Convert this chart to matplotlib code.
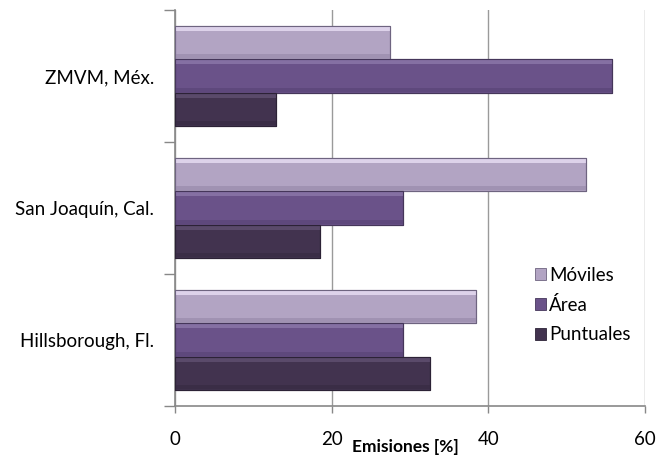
import matplotlib.pyplot as plt
import numpy as np
from matplotlib.patches import Patch

# emissions share by source type, per region
regiones = ["Hillsborough, Fl.", "San Joaquín, Cal.", "ZMVM, Méx."]
series = ["Móviles", "Área", "Puntuales"]
moviles = [38.4, 52.5, 27.4]
area = [29.1, 29.1, 55.8]
puntuales = [32.5, 18.5, 12.9]

valores = [moviles, area, puntuales]
colores = ["#b2a4c3", "#6a5289", "#42334f"]
brillo = ["#ddd2ea", "#8570a3", "#5a4a6a"]
sombra = ["#a092b2", "#5e487c", "#3a2d46"]
bordes = ["#6e6480", "#45365a", "#2c2236"]

plt.rcParams['font.family'] = ['Lato', 'DejaVu Sans']

fig = plt.figure(figsize=(6.57, 4.57), dpi=100)
ax = fig.add_axes([0.2664, 0.1116, 0.7153, 0.8665])

y = np.arange(len(regiones))
h = 0.254
offsets = [h, 0, -h]

for vals, off, c, cb, cs, ce in zip(valores, offsets, colores, brillo, sombra, bordes):
    pos = y + off
    ax.barh(pos, vals, height=h, color=c, edgecolor=ce, linewidth=0.8, zorder=3)
    # bevel strips on top and bottom edge of each bar
    ax.barh(pos + h * 0.41, vals, height=h * 0.12, color=cb, linewidth=0, zorder=4)
    ax.barh(pos - h * 0.41, vals, height=h * 0.12, color=cs, linewidth=0, zorder=4)
    ax.barh(pos, vals, height=h, color="none", edgecolor=ce, linewidth=0.8, zorder=5)

ax.set_xlim(0, 60)
ax.set_ylim(-0.5, 2.5)
ax.set_xticks([0, 20, 40, 60])
ax.xaxis.grid(True, color="#9a9a9a", linewidth=1.0, zorder=0)
ax.set_axisbelow(True)

ax.set_yticks([-0.5, 0.5, 1.5, 2.5])
ax.set_yticklabels([])
ax.set_yticks(y, minor=True)
ax.set_yticklabels(regiones, minor=True)
ax.tick_params(axis="y", which="major", length=8, color="#888888", width=1)
ax.tick_params(axis="y", which="minor", length=0, pad=15, labelsize=13.5)
ax.tick_params(axis="x", length=5, color="#888888", width=1, pad=13, labelsize=13.5)

for s in ["top", "right"]:
    ax.spines[s].set_visible(False)
for s in ["left", "bottom"]:
    ax.spines[s].set_color("#888888")
    ax.spines[s].set_linewidth(1.2)

ax.set_xlabel("Emisiones [%]", fontsize=12.5, fontweight="bold")
ax.xaxis.set_label_coords(0.49, -0.083)

handles = [Patch(facecolor=c, edgecolor=ce, linewidth=0.6) for c, ce in zip(colores, bordes)]
ax.legend(handles, series, loc="center left", bbox_to_anchor=(0.73, 0.255),
          frameon=False, fontsize=13.5, handlelength=0.6, handleheight=0.6,
          handletextpad=0.15, labelspacing=0.65)

fig.savefig("out.png", dpi=100)
